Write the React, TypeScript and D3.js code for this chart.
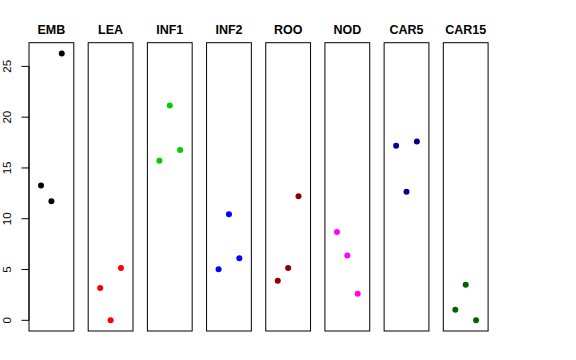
import React from "react";
import * as d3 from "d3";

const categories = ["EMB", "LEA", "INF1", "INF2", "ROO", "NOD", "CAR5", "CAR15"];
const colors = ["#000000", "#FF0000", "#00CD00", "#0000FF", "#8B0000", "#FF00FF", "#00008B", "#006400"];
const values: number[][] = [
  [13.27, 11.73, 26.28],
  [3.18, 0.0, 5.16],
  [15.7, 21.16, 16.76],
  [5.03, 10.45, 6.11],
  [3.9, 5.16, 12.22],
  [8.7, 6.37, 2.62],
  [17.18, 12.65, 17.61],
  [1.05, 3.51, 0.0],
];
const yTicks = [0, 5, 10, 15, 20, 25];

const W = 576;
const H = 360;
const TOP = 42.7;
const BOTTOM = 331;
const PANEL_W = 44.8;

export default function App() {
  const allVals = values.flat();
  const vmin = d3.min(allVals) as number;
  const vmax = d3.max(allVals) as number;
  const pad = (vmax - vmin) * 0.04;
  const y = d3.scaleLinear().domain([vmin - pad, vmax + pad]).range([BOTTOM, TOP]);
  const panelLeft = d3.scaleLinear().domain([0, categories.length - 1]).range([29, 443.3]);
  const xpad = 4 * 0.04;

  return (
    <svg width={W} height={H} style={{ position: "absolute", left: 0, top: 0, background: "#fff" }}
      fontFamily="'Liberation Sans', Arial, Helvetica, sans-serif">
      <rect x={0} y={0} width={W} height={H} fill="#fff" />
      {categories.map((cat, i) => {
        const left = panelLeft(i);
        const x = d3.scaleLinear().domain([0 - xpad, 4 + xpad]).range([left, left + PANEL_W]);
        return (
          <g key={cat}>
            <text x={left + PANEL_W / 2} y={33.5} textAnchor="middle" fontWeight="bold" fontSize={12.5} fill="#000">
              {cat}
            </text>
            <rect x={left} y={TOP} width={PANEL_W} height={BOTTOM - TOP} fill="none" stroke="#000" strokeWidth={1} />
            {values[i].map((v, j) => (
              <circle key={j} cx={x(j + 1)} cy={y(v)} r={3} fill={colors[i]} />
            ))}
          </g>
        );
      })}
      <g>
        <line x1={29} x2={29} y1={y(yTicks[0])} y2={y(yTicks[yTicks.length - 1])} stroke="#000" />
        {yTicks.map((t) => (
          <g key={t}>
            <line x1={21.5} x2={29} y1={y(t)} y2={y(t)} stroke="#000" />
            <text transform={`translate(11,${y(t)}) rotate(-90)`} textAnchor="middle" fontSize={11.5} fill="#000">
              {t}
            </text>
          </g>
        ))}
      </g>
    </svg>
  );
}
